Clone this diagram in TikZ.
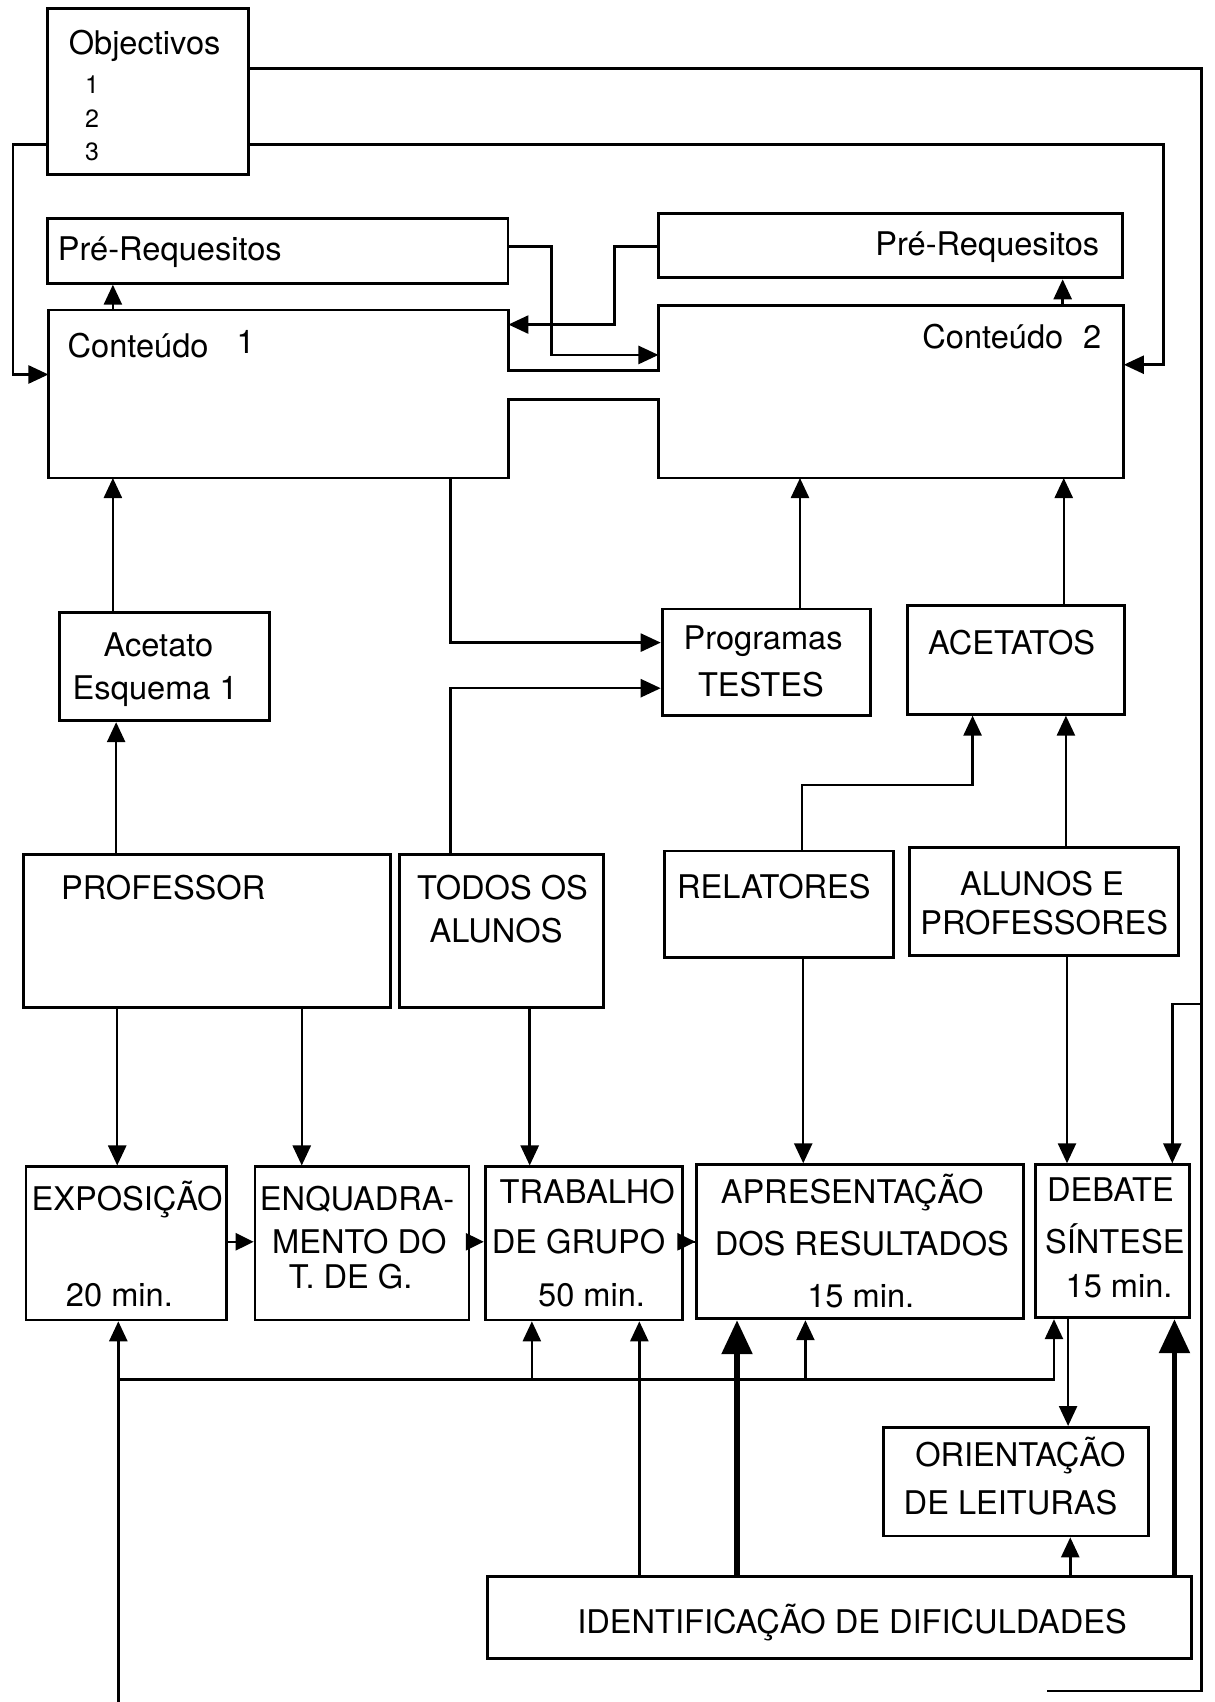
\documentclass[tikz,border=0pt]{standalone}
\usepackage{fontspec}
\setmainfont{TeX Gyre Heros}
\usetikzlibrary{arrows.meta,fit,calc}
\begin{document}
\begin{tikzpicture}[x=0.5429pt,y=-0.5429pt,
  box/.style={draw,line width=1.4pt,inner sep=0pt},
  hid/.style={inner sep=0pt},
  txt/.style={font=\fontsize{16.3}{19}\selectfont,inner sep=0pt},
  small/.style={font=\fontsize{12.5}{15}\selectfont,inner sep=0pt},
  ln/.style={line width=1.25pt},
  arr/.style={ln,-{Triangle[length=10pt,width=9pt]}},
  sarr/.style={ln,-{Triangle[length=9pt,width=8.5pt]}},
  barr/.style={line width=2.8pt,-{Triangle[length=17pt,width=15pt]}},
]
\fill[white] (0,0) rectangle (1119,1568);
\useasboundingbox (0,0) rectangle (1119,1568);

% ---------- boxes ----------
\node[box,fit={(44,8)(229,161)}] (obj) {};
\node[box,fit={(44,201)(468,261)}] (pre1) {};
\node[box,fit={(607,197)(1034,256)}] (pre2) {};
\node[hid,fit={(45,286)(468,440)}] (c1) {};
\node[hid,fit={(607,282)(1035,440)}] (c2) {};
\node[box,fit={(55,564)(248,664)}] (acet) {};
\node[box,fit={(610,561)(802,659)}] (prog) {};
\node[box,fit={(836,558)(1036,658)}] (acets) {};
\node[box,fit={(22,787)(360,928)}] (prof) {};
\node[box,fit={(368,787)(556,928)}] (todos) {};
\node[box,fit={(612,784)(823,882)}] (rel) {};
\node[box,fit={(838,781)(1086,880)}] (alun) {};
\node[box,fit={(24,1075)(209,1216)}] (expo) {};
\node[box,fit={(235,1075)(432,1216)}] (enq) {};
\node[box,fit={(447,1075)(629,1216)}] (trab) {};
\node[box,fit={(642,1073)(943,1215)}] (apres) {};
\node[box,fit={(954,1073)(1096,1214)}] (deb) {};
\node[box,fit={(814,1315)(1058,1415)}] (orient) {};
\node[box,fit={(449,1452)(1098,1528)}] (ident) {};

% joined outline of Conteudo 1 and Conteudo 2
\draw[line width=1.4pt] (c1.north west) -- (c1.north east) -- (c1.east |- 0,341)
  -- (c2.west |- 0,341) -- (c2.north west) -- (c2.north east) -- (c2.south east)
  -- (c2.south west) -- (c2.west |- 0,368) -- (c1.east |- 0,368) -- (c1.south east)
  -- (c1.south west) -- cycle;

% ---------- texts ----------
\node[txt,anchor=base west] (tobj) at (63,50) {Objectivos};
\node[small,anchor=base west] (tobj1) at (78,86) {1};
\node[small,anchor=base west] (tobj2) at (78,117) {2};
\node[small,anchor=base west] (tobj3) at (78,148) {3};
\node[txt,anchor=base west] (tpre1) at (53,240) {Pré-Requesitos};
\node[txt,anchor=base east] (tpre2) at (1013,235) {Pré-Requesitos};
\node[txt,anchor=base west] (tc1) at (62,329) {Conteúdo\hspace{14pt}\raisebox{2pt}{1}};
\node[txt,anchor=base east] (tc2) at (1015,321) {Conteúdo\hspace{10pt}2};
\node[txt,anchor=base] (tacet1) at (146,605) {Acetato};
\node[txt,anchor=base] (tacet2) at (143,644) {Esquema 1};
\node[txt,anchor=base] (tprog1) at (703,598) {Programas};
\node[txt,anchor=base] (tprog2) at (701,642) {TESTES};
\node[txt,anchor=base] (tacets) at (932,603) {ACETATOS};
\node[txt,anchor=base west] (tprof) at (56,829) {PROFESSOR};
\node[txt,anchor=base] (ttodos1) at (463,829) {TODOS OS};
\node[txt,anchor=base] (ttodos2) at (457,868) {ALUNOS};
\node[txt,anchor=base] (trel) at (713,828) {RELATORES};
\node[txt,anchor=base] (talun1) at (960,825) {ALUNOS E};
\node[txt,anchor=base] (talun2) at (962,861) {PROFESSORES};
\node[txt,anchor=base] (texpo1) at (117,1115) {EXPOSIÇÃO};
\node[txt,anchor=base] (texpo2) at (110,1204) {20 min.};
\node[txt,anchor=base] (tenq1) at (329,1115) {ENQUADRA-};
\node[txt,anchor=base] (tenq2) at (331,1155) {MENTO DO};
\node[txt,anchor=base] (tenq3) at (323,1187) {T. DE G.};
\node[txt,anchor=base] (ttrab1) at (541,1109) {TRABALHO};
\node[txt,anchor=base] (ttrab2) at (533,1155) {DE GRUPO};
\node[txt,anchor=base] (ttrab3) at (545,1204) {50 min.};
\node[txt,anchor=base] (tapres1) at (785,1109) {APRESENTAÇÃO};
\node[txt,anchor=base] (tapres2) at (794,1157) {DOS RESULTADOS};
\node[txt,anchor=base] (tapres3) at (793,1205) {15 min.};
\node[txt,anchor=base] (tdeb1) at (1023,1107) {DEBATE};
\node[txt,anchor=base] (tdeb2) at (1027,1155) {SÍNTESE};
\node[txt,anchor=base] (tdeb3) at (1031,1195) {15 min.};
\node[txt,anchor=base] (tor1) at (940,1351) {ORIENTAÇÃO};
\node[txt,anchor=base] (tor2) at (931,1395) {DE LEITURAS};
\node[txt,anchor=base] (tident) at (785,1505) {IDENTIFICAÇÃO DE DIFICULDADES};

% ---------- free ends ----------
\coordinate (obot) at (1107,1558);
\coordinate (ostub) at (965,1558);
\coordinate (obr) at (1107,925);
\coordinate (lbot) at (109,1568);
\coordinate (busL) at (109,1271);

% ---------- connectors (top) ----------
\draw[ln] (obj.east |- 0,63) -| (obot) -- (ostub);
\draw[arr] (obr) -| (deb.north -| 1080,0);
\draw[arr] (obj.east |- 0,133) -| (1072,336) -- (c2.east |- 0,336);
\draw[arr] (obj.west |- 0,133) -| (12,345) -- (c1.west |- 0,345);
\draw[arr] (c1.north -| 104,0) -- (pre1.south -| 104,0);
\draw[arr] (c2.north -| 979,0) -- (pre2.south -| 979,0);
\draw[arr] (pre1.east |- 0,227) -| (508,327) -- (c2.west |- 0,327);
\draw[arr] (pre2.west |- 0,227) -| (566,299) -- (c1.east |- 0,299);

% ---------- connectors (middle) ----------
\draw[arr] (acet.north -| 104,0) -- (c1.south -| 104,0);
\draw[arr] (prof.north -| 107,0) -- (acet.south -| 107,0);
\draw[arr] (c1.south -| 415,0) |- (prog.west |- 0,592);
\draw[arr] (todos.north -| 415,0) |- (prog.west |- 0,634);
\draw[arr] (prog.north -| 737,0) -- (c2.south -| 737,0);
\draw[arr] (acets.north -| 980,0) -- (c2.south -| 980,0);
\draw[arr] (rel.north -| 739,0) |- (896,723) -- (acets.south -| 896,0);
\draw[arr] (alun.north -| 982,0) -- (acets.south -| 982,0);

% ---------- connectors (down to bottom row) ----------
\draw[arr] (prof.south -| 108,0) -- (expo.north -| 108,0);
\draw[arr] (prof.south -| 278,0) -- (enq.north -| 278,0);
\draw[arr] (todos.south -| 488,0) -- (trab.north -| 488,0);
\draw[arr] (rel.south -| 740,0) -- (apres.north -| 740,0);
\draw[arr] (alun.south -| 983,0) -- (deb.north -| 983,0);

% ---------- bottom row horizontal ----------
\draw[sarr] (expo.east |- 0,1144) -- (enq.west |- 0,1144);
\draw[sarr,shorten <=-6pt] (enq.east |- 0,1144) -- (trab.west |- 0,1144);
\draw[sarr,shorten <=-6pt] (trab.east |- 0,1144) -- (apres.west |- 0,1144);

% ---------- bus and bottom ----------
\draw[arr] (lbot) -- (expo.south -| lbot);
\draw[arr] (busL) -| (deb.south -| 971,0);
\draw[arr] (busL -| 490,0) -- (trab.south -| 490,0);
\draw[arr] (busL -| 742,0) -- (apres.south -| 742,0);
\draw[arr] (ident.north -| 589,0) -- (trab.south -| 589,0);
\draw[barr] (ident.north -| 679,0) -- (apres.south -| 679,0);
\draw[arr] (ident.north -| 986,0) -- (orient.south -| 986,0);
\draw[barr] (ident.north -| 1082,0) -- (deb.south -| 1082,0);
\draw[arr] (deb.south -| 984,0) -- (orient.north -| 984,0);
\end{tikzpicture}
\end{document}
